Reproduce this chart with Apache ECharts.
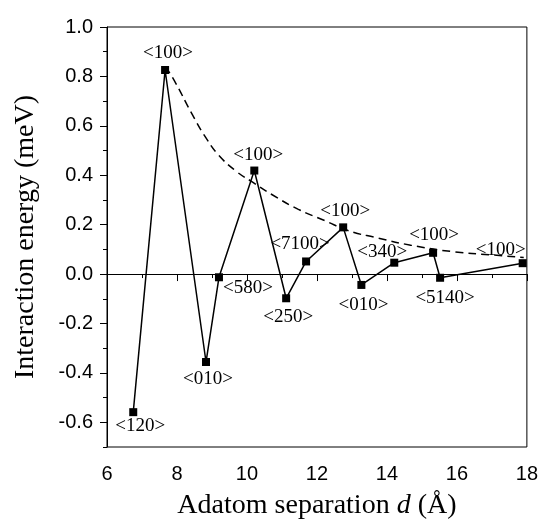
<!DOCTYPE html>
<html>
<head>
<meta charset="utf-8">
<script src="https://cdn.jsdelivr.net/npm/echarts@6/dist/echarts.min.js"></script>
<style>html,body{margin:0;padding:0;background:#fff;}#c{width:541px;height:525px;}</style>
</head>
<body>
<div id="c"></div>
<script>
// Data
const separations = [6.75, 7.66, 8.83, 9.20, 10.21, 11.12, 11.69, 12.75, 13.27, 14.21, 15.32, 15.52, 17.88];
const energies    = [-0.559, 0.826, -0.356, -0.013, 0.419, -0.098, 0.051, 0.189, -0.044, 0.046, 0.086, -0.015, 0.044];
const directions  = ['<120>', '<100>', '<010>', '<580>', '<100>', '<250>', '<7100>', '<100>', '<010>', '<340>', '<100>', '<5140>', '<100>'];
const envelopeX   = [7.67, 7.92, 8.44, 8.82, 9.20, 9.71, 10.14, 10.71, 11.47, 12.23, 12.89, 13.74, 14.68, 15.92, 17.05, 17.91];
const envelopeY   = [0.84, 0.784, 0.645, 0.553, 0.480, 0.414, 0.374, 0.322, 0.262, 0.216, 0.176, 0.146, 0.117, 0.090, 0.077, 0.067];
const yTickValues = [-0.6, -0.4, -0.2, 0.0, 0.2, 0.4, 0.6, 0.8, 1.0];

// Label placement (layout, px offsets from marker centre)
const labelOffsets = [[7,14],[3,-17],[2,17],[29,11],[4,-16],[2,19],[-6,-17],[2,-16],[2,20],[-12,-11],[1,-18],[5,20],[-22,-13]];

const serif = '"Liberation Serif","Times New Roman",serif';
const sans = '"Liberation Sans",Arial,sans-serif';

const mainData = separations.map((x, i) => ({
  value: [x, energies[i]],
  label: { show: true, position: 'inside', offset: labelOffsets[i], formatter: directions[i] }
}));
const envData = envelopeX.map((x, i) => [x, envelopeY[i]]);

const chart = echarts.init(document.getElementById('c'), null, { renderer: 'canvas' });
chart.setOption({
  animation: false,
  backgroundColor: '#fff',
  grid: { left: 107, right: 11, top: 27, bottom: 69, show: true, borderColor: '#000', borderWidth: 1, containLabel: false },
  xAxis: {
    type: 'value', min: 6, max: 18, interval: 2,
    name: 'Adatom separation {i|d} (Å)',
    nameLocation: 'middle', nameGap: 45,
    nameTextStyle: {
      fontFamily: serif, fontSize: 28, color: '#000',
      rich: { i: { fontFamily: serif, fontSize: 28, fontStyle: 'italic', color: '#000' } }
    },
    axisLine: { show: true, lineStyle: { color: '#000', width: 1 } },
    axisTick: { show: true, length: 7, lineStyle: { color: '#000', width: 1 } },
    minorTick: { show: true, splitNumber: 2, length: 4, lineStyle: { color: '#000', width: 1 } },
    axisLabel: { fontFamily: sans, fontSize: 20, color: '#000', margin: 17 },
    splitLine: { show: false }
  },
  yAxis: [{
    type: 'value', min: -0.7, max: 1.0,
    name: 'Interaction energy (meV)',
    nameLocation: 'middle', nameGap: 67,
    nameTextStyle: { fontFamily: serif, fontSize: 28, color: '#000' },
    axisLine: { show: true, lineStyle: { color: '#000', width: 1 } },
    axisTick: { show: true, length: 7, customValues: yTickValues, lineStyle: { color: '#000', width: 1 } },
    axisLabel: { fontFamily: sans, fontSize: 20, color: '#000', margin: 14, customValues: yTickValues,
      formatter: v => v.toFixed(1) },
    splitLine: { show: false }
  }, {
    type: 'value', min: -0.7, max: 1.0, interval: 0.1, position: 'left',
    axisLine: { show: false },
    axisTick: { show: true, length: 4, lineStyle: { color: '#000', width: 1 } },
    axisLabel: { show: false },
    splitLine: { show: false }
  }],
  series: [{
    type: 'line', data: envData, smooth: true, symbol: 'none', z: 2,
    lineStyle: { color: '#000', width: 1.5, type: [8, 5] },
    silent: true
  }, {
    type: 'line', data: mainData, z: 3,
    symbol: 'rect', symbolSize: 8,
    itemStyle: { color: '#000' },
    lineStyle: { color: '#000', width: 1.5 },
    label: { fontFamily: serif, fontSize: 19, color: '#000' },
    markLine: {
      silent: true, symbol: 'none', animation: false,
      lineStyle: { color: '#000', width: 1, type: 'solid' },
      label: { show: false },
      data: [{ yAxis: 0 }]
    }
  }]
});
</script>
</body>
</html>
